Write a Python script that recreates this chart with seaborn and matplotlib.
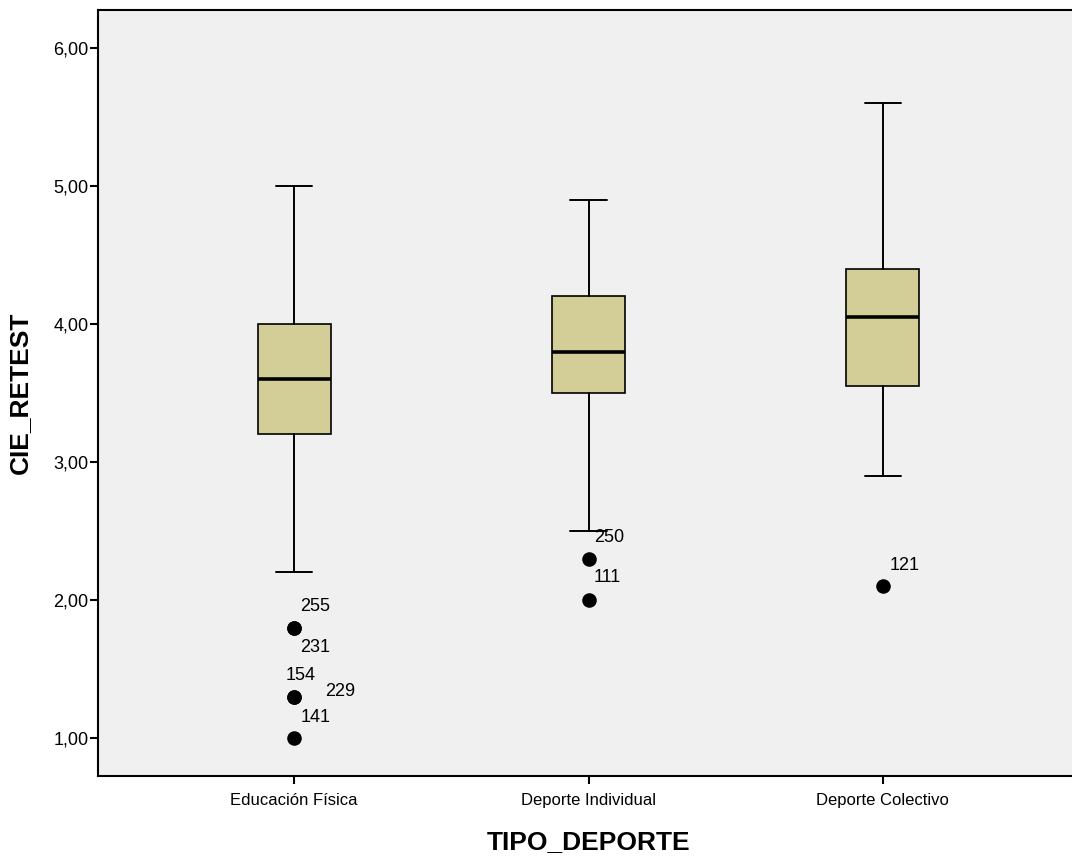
import pandas as pd
import seaborn as sns
import matplotlib.pyplot as plt
from matplotlib.ticker import FuncFormatter

#################### Data ####################

categories = ['Educación Física', 'Deporte Individual', 'Deporte Colectivo']
whisker_low = [2.2, 2.5, 2.9]
q1 = [3.2, 3.5, 3.55]
median = [3.6, 3.8, 4.05]
q3 = [4.0, 4.2, 4.4]
whisker_high = [5.0, 4.9, 5.6]

outlier_group = ['Educación Física'] * 5 + ['Deporte Individual'] * 2 + ['Deporte Colectivo']
outlier_value = [1.8, 1.8, 1.3, 1.3, 1.0, 2.3, 2.0, 2.1]
outlier_case = ['255', '231', '154', '229', '141', '250', '111', '121']

# label offsets (points) relative to each outlier dot
label_offset = {'255': (4, 15), '231': (4, -14), '154': (-6, 15), '229': (22, 4),
                '141': (5, 15), '250': (4, 15), '111': (4, 16), '121': (5, 15)}

#################### Style ####################

sns.set_style('ticks')
plt.rcParams['font.family'] = ['Liberation Sans', 'DejaVu Sans']
for key in ['text.color', 'axes.labelcolor', 'xtick.color', 'ytick.color',
            'xtick.labelcolor', 'ytick.labelcolor']:
    plt.rcParams[key] = 'black'

fig = plt.figure(figsize=(10.72, 8.64), dpi=100)
ax = fig.add_axes([98 / 1072, 1 - 776 / 864, 981 / 1072, 766 / 864])
ax.set_facecolor('#f0f0f0')

#################### Boxes ####################

stats = []
for i, cat in enumerate(categories):
    stats.append({'label': cat, 'whislo': whisker_low[i], 'q1': q1[i], 'med': median[i],
                  'q3': q3[i], 'whishi': whisker_high[i], 'fliers': []})

ax.bxp(stats, positions=range(len(categories)), widths=0.248, patch_artist=True,
       showfliers=False,
       boxprops=dict(facecolor='#d3ce98', edgecolor='black', linewidth=1.2),
       medianprops=dict(color='black', linewidth=2.6),
       whiskerprops=dict(color='black', linewidth=1.4),
       capprops=dict(color='black', linewidth=1.4),
       capwidths=0.125)

#################### Outliers ####################

out_df = pd.DataFrame({'group': outlier_group, 'value': outlier_value, 'case': outlier_case})
out_df['pos'] = out_df['group'].map({c: i for i, c in enumerate(categories)})
sns.scatterplot(data=out_df, x='pos', y='value', color='black', s=110,
                edgecolor='black', linewidth=0, ax=ax, zorder=5, legend=False)

for _, row in out_df.iterrows():
    dx, dy = label_offset[row['case']]
    ax.annotate(row['case'], (row['pos'], row['value']), xytext=(dx, dy),
                textcoords='offset points', fontsize=13, va='center', ha='left',
                color='black')

#################### Axes ####################

ax.set_xlim(-0.666, 2.666)
ax.set_ylim(0.725, 6.275)
ax.set_xticks(range(len(categories)))
ax.set_xticklabels(categories, fontsize=12)
ax.set_yticks([1, 2, 3, 4, 5, 6])
ax.yaxis.set_major_formatter(FuncFormatter(lambda v, p: f'{v:.2f}'.replace('.', ',')))
ax.tick_params(axis='y', labelsize=13, length=6, width=1.5, pad=1)
ax.tick_params(axis='x', length=6, width=1.5, pad=6)

for s in ax.spines.values():
    s.set_linewidth(1.5)
    s.set_color('black')

ax.set_xlabel('TIPO_DEPORTE', fontsize=19, fontweight='bold', labelpad=16)
ax.set_ylabel('CIE_RETEST', fontsize=19, fontweight='bold', labelpad=15)

plt.savefig('out.png', dpi=100)
